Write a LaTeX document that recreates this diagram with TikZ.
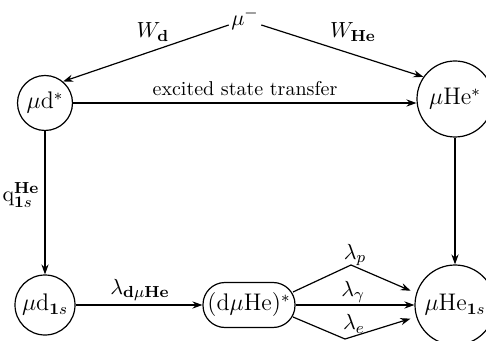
\documentclass[tikz,border=0pt]{standalone}
\usetikzlibrary{arrows.meta}
\begin{document}
\begin{tikzpicture}[x=0.5pt,y=-0.5pt,line width=0.6pt,
  arr/.style={-{Stealth[length=5pt,width=3.6pt]}},
  state/.style={draw,circle,inner sep=0pt,font=\large},
  lab/.style={inner sep=1pt,font=\fontsize{11}{13}\selectfont}]
\useasboundingbox (0,0) rectangle (486,341);
% nodes
\node[inner sep=1pt,font=\fontsize{11}{13}\selectfont] (mum) at (245,19) {$\mu^-$};
\node[state,minimum size=27.5pt] (mud) at (45,103) {$\mu$d$^*$};
\node[state,minimum size=38pt] (mhe) at (455,99) {$\mu$He$^*$};
\node[state,minimum size=30pt] (mds) at (45,305) {$\mu$d$_{\mathbf{1}s}$};
\node[draw,rounded corners=11pt,minimum width=46pt,minimum height=22.5pt,inner sep=1pt,font=\large] (box) at (249,305) {(d$\mu$He)$^*$};
\node[state,minimum size=40pt] (mhs) at (455,305) {$\mu$He$_{\mathbf{1}s}$};
% connectors
\draw[arr] ([yshift=-3pt]mum.west) -- (mud.50);
\draw[arr] ([yshift=-3pt]mum.east) -- (mhe.145);
\draw[arr] (mud.east) -- (mud.east -| mhe.west);
\draw[arr] (mud) -- (mds);
\draw[arr] (mhe) -- (mhs);
\draw[arr] (mds) -- (box);
\draw[arr] (box) -- (mhs);
\coordinate (pk) at (351,265);
\coordinate (pe) at (345,339);
\draw[arr,shorten >=3pt] ([shift={(44,-13)}]box.center) -- (pk) -- (mhs.163);
\draw[arr,shorten >=3pt] ([shift={(44,12)}]box.center) -- (pe) -- (mhs.197);
% labels
\node[lab] (lwd) at (153,32) {$W_{\mathbf{d}}$};
\node[lab] (lwhe) at (353,32) {$W_{\mathbf{He}}$};
\node[inner sep=1pt] (lex) at (245,89) {excited state transfer};
\node[lab,anchor=east] (lq) at (42,195) {$\mathrm{q}^{\mathbf{He}}_{\mathbf{1}s}$};
\node[lab] (lldm) at (140,290) {$\lambda_{\mathbf{d}\mu\mathbf{He}}$};
\node[lab] (llp) at (355,255) {$\lambda_p$};
\node[lab] (llg) at (353,292) {$\lambda_\gamma$};
\node[lab] (lle) at (354,324) {$\lambda_e$};
\end{tikzpicture}
\end{document}
